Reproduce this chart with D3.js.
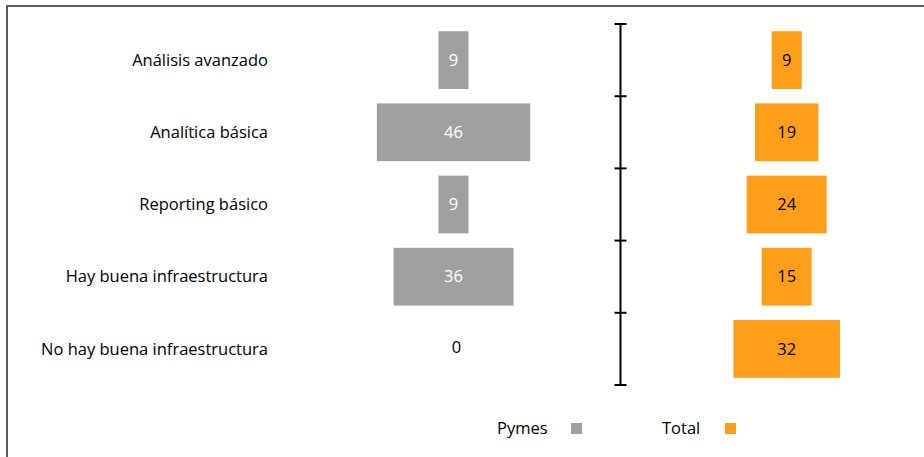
<!DOCTYPE html>
<html>
<head>
<meta charset="utf-8">
<script src="https://cdn.jsdelivr.net/npm/d3@7"></script>
<style>
  html, body { margin: 0; padding: 0; background: #fff; }
  svg { display: block; }
  text { font-family: "Open Sans", "Noto Sans", sans-serif; }
</style>
</head>
<body>
<svg id="chart" width="924" height="457"></svg>
<script>
const categories = [
  "Análisis avanzado",
  "Analítica básica",
  "Reporting básico",
  "Hay buena infraestructura",
  "No hay buena infraestructura"
];
const pymes = [9, 46, 9, 36, 0];
const total = [9, 19, 24, 15, 32];
const seriesNames = ["Pymes", "Total"];
const seriesColors = ["#a0a0a1", "#ff9e1b"];

const svg = d3.select("#chart");
const W = 924, H = 457;
const FS = 16.5;

// outer frame
svg.append("rect")
  .attr("x", 7).attr("y", 6)
  .attr("width", W).attr("height", H)
  .attr("fill", "none").attr("stroke", "#5a5a5a").attr("stroke-width", 2);

// shared vertical band scale for the rows
const y = d3.scaleBand().domain(categories).range([24, 385]).paddingInner(0.2).paddingOuter(0.1);
const yAxisBand = d3.scaleBand().domain(categories).range([24, 385]);

// value-to-width scale (bars are centred on each panel's middle)
const w = d3.scaleLinear().domain([0, 46]).range([0, 153.3]);

const panels = [
  { values: pymes, cx: 453.5, color: seriesColors[0], labelColor: "#ffffff" },
  { values: total, cx: 786.7, color: seriesColors[1], labelColor: "#000000" }
];

// category labels
svg.append("g").selectAll("text")
  .data(categories).join("text")
  .attr("x", 268)
  .attr("y", d => y(d) + y.bandwidth() / 2)
  .attr("dy", "0.35em")
  .attr("text-anchor", "end")
  .attr("font-size", FS)
  .attr("fill", "#000")
  .text(d => d);

panels.forEach(p => {
  const g = svg.append("g");
  g.selectAll("rect")
    .data(categories).join("rect")
    .attr("x", (d, i) => p.cx - w(p.values[i]) / 2)
    .attr("y", d => y(d))
    .attr("width", (d, i) => w(p.values[i]))
    .attr("height", y.bandwidth())
    .attr("fill", p.color);
  g.selectAll("text")
    .data(categories).join("text")
    .attr("x", (d, i) => p.values[i] > 0 ? p.cx : p.cx + 3)
    .attr("y", (d, i) => y(d) + y.bandwidth() / 2 - (p.values[i] > 0 ? 0 : 2))
    .attr("dy", "0.35em")
    .attr("text-anchor", "middle")
    .attr("font-size", FS)
    .attr("fill", (d, i) => p.values[i] > 0 ? p.labelColor : "#000")
    .text((d, i) => p.values[i]);
});

// divider axis between the two panels
const axG = svg.append("g").attr("transform", "translate(620.5,0)");
const tickYs = categories.map(c => yAxisBand(c)).concat([yAxisBand.range()[1]]);
axG.append("line")
  .attr("x1", 0).attr("x2", 0).attr("y1", 24).attr("y2", 385)
  .attr("stroke", "#000").attr("stroke-width", 2);
axG.selectAll("line.tick")
  .data(tickYs).join("line").attr("class", "tick")
  .attr("x1", -6).attr("x2", 6)
  .attr("y1", d => d).attr("y2", d => d)
  .attr("stroke", "#000").attr("stroke-width", 2);

// legend
const legend = [
  { name: seriesNames[0], color: seriesColors[0], tx: 497, sx: 571 },
  { name: seriesNames[1], color: seriesColors[1], tx: 662, sx: 725 }
];
const lg = svg.append("g");
legend.forEach(l => {
  lg.append("text").attr("x", l.tx).attr("y", 434)
    .attr("font-size", FS).attr("fill", "#000").text(l.name);
  lg.append("rect").attr("x", l.sx).attr("y", 423)
    .attr("width", 11).attr("height", 11).attr("fill", l.color);
});
</script>
</body>
</html>
